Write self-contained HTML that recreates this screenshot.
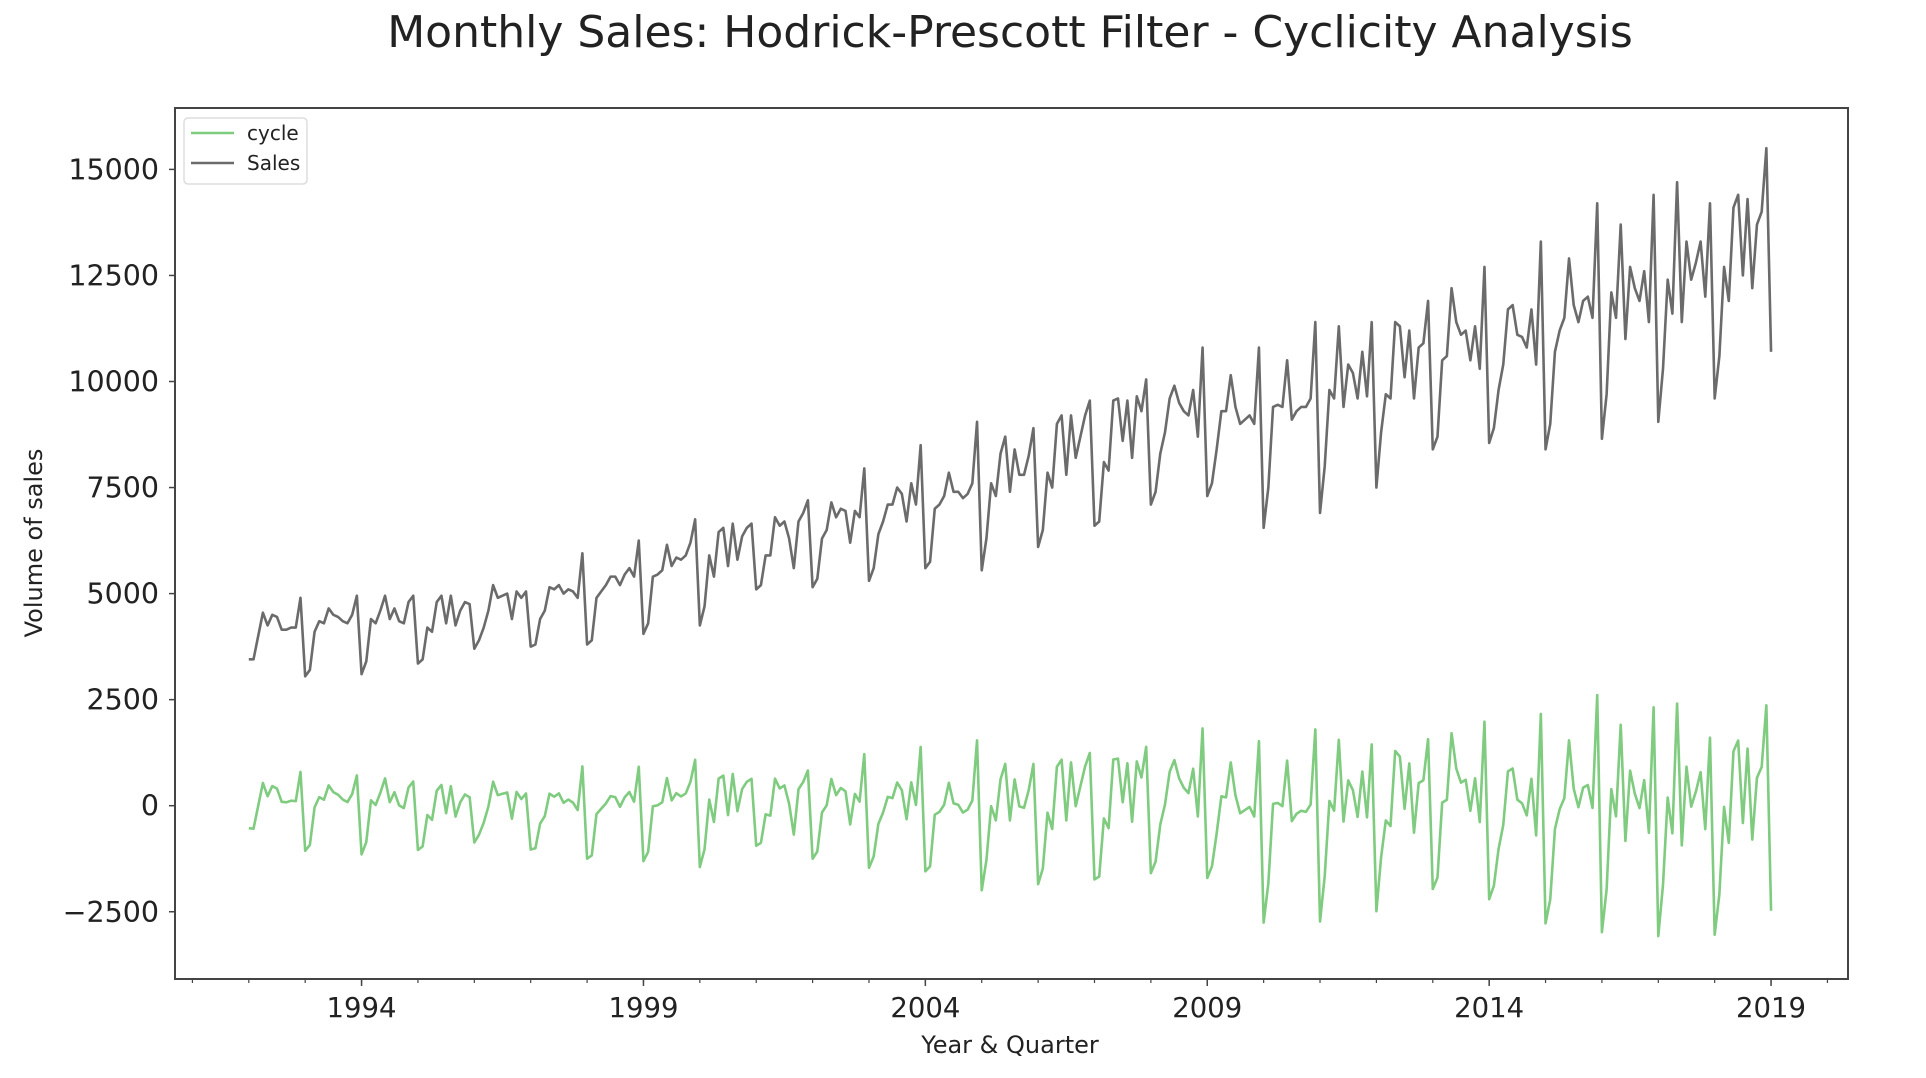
<!DOCTYPE html>
<html><head><meta charset="utf-8"><style>
html,body{margin:0;padding:0;background:#fff;}
svg{display:block;font-family:"DejaVu Sans","Liberation Sans",sans-serif;}
</style></head><body>
<svg id="chart" width="1926" height="1078" viewBox="0 0 1926 1078" xmlns="http://www.w3.org/2000/svg">
<text x="1010" y="47" font-size="44" text-anchor="middle" fill="#222">Monthly Sales: Hodrick-Prescott Filter - Cyclicity Analysis</text>
<g id="plot"></g>
<rect x="175" y="108" width="1673" height="871" fill="none" stroke="#444" stroke-width="2"/>
<text x="1010" y="1053" font-size="24" text-anchor="middle" fill="#222">Year &amp; Quarter</text>
<text transform="translate(42,543) rotate(-90)" font-size="24" text-anchor="middle" fill="#222">Volume of sales</text>
<g>
<rect x="184" y="118" width="123" height="66" rx="4" fill="#fff" stroke="#ddd" stroke-width="1.5"/>
<line x1="191" y1="133" x2="234" y2="133" stroke="#7fcb7f" stroke-width="2.6"/>
<text x="247" y="140" font-size="20" fill="#222">cycle</text>
<line x1="191" y1="163" x2="234" y2="163" stroke="#6b6b6b" stroke-width="2.6"/>
<text x="247" y="170" font-size="20" fill="#222">Sales</text>
</g>
</svg>
<script>
const startYear = 1992;
const sales = [
3450,3450,4000,4550,4250,4500,4450,4150,4150,4200,4200,4900,
3050,3200,4100,4350,4300,4650,4500,4450,4350,4300,4500,4950,
3100,3400,4400,4300,4600,4950,4400,4650,4350,4300,4800,4950,
3350,3450,4200,4100,4800,4950,4300,4950,4250,4600,4800,4750,
3700,3900,4200,4600,5200,4900,4950,5000,4400,5050,4900,5050,
3750,3800,4400,4600,5150,5100,5200,5000,5100,5050,4900,5950,
3800,3900,4900,5050,5200,5400,5400,5200,5450,5600,5400,6250,
4050,4300,5400,5450,5550,6150,5650,5850,5800,5900,6200,6750,
4250,4700,5900,5400,6450,6550,5650,6650,5800,6350,6550,6650,
5100,5200,5900,5900,6800,6600,6700,6300,5600,6700,6900,7200,
5150,5350,6300,6500,7150,6800,7000,6950,6200,6950,6800,7950,
5300,5600,6400,6700,7100,7100,7500,7350,6700,7600,7100,8500,
5600,5750,7000,7100,7300,7850,7400,7400,7250,7350,7600,9050,
5550,6300,7600,7300,8300,8700,7400,8400,7800,7800,8250,8900,
6100,6500,7850,7500,9000,9200,7800,9200,8200,8700,9200,9550,
6600,6700,8100,7900,9550,9600,8600,9550,8200,9650,9300,10050,
7100,7400,8300,8800,9600,9900,9500,9300,9200,9800,8700,10800,
7300,7600,8400,9300,9300,10150,9400,9000,9100,9200,9000,10800,
6550,7500,9400,9450,9400,10500,9100,9300,9400,9400,9600,11400,
6900,8000,9800,9600,11300,9400,10400,10200,9600,10700,9650,11400,
7500,8800,9700,9600,11400,11300,10100,11200,9600,10800,10900,11900,
8400,8700,10500,10600,12200,11400,11100,11200,10500,11300,10300,12700,
8550,8900,9800,10400,11700,11800,11100,11050,10800,11700,10400,13300,
8400,9000,10700,11200,11500,12900,11800,11400,11900,12000,11500,14200,
8650,9700,12100,11500,13700,11000,12700,12200,11900,12600,11400,14400,
9050,10300,12400,11600,14700,11400,13300,12400,12800,13300,12000,14200,
9600,10600,12700,11900,14100,14400,12500,14300,12200,13700,14000,15500,
10700];
const yTicks = [-2500,0,2500,5000,7500,10000,12500,15000];
const xTickYears = [1994,1999,2004,2009,2014,2019];
const minorYears = [1991,1992,1993,1994,1995,1996,1997,1998,1999,2000,2001,2002,2003,2004,2005,2006,2007,2008,2009,2010,2011,2012,2013,2014,2015,2016,2017,2018,2019,2020];
const hpLambda = 129600;

const NS='http://www.w3.org/2000/svg';
const X0=248.8, PXY=56.38;            // x for 1992.0, px per year
const Y0=805.7, PXV=0.04242;          // y for value 0, px per unit
function xs(t){return X0+(t-startYear)*PXY;}
function ys(v){return Y0-v*PXV;}

function hpTrend(y,lam){
  const n=y.length;const A=[];for(let i=0;i<n;i++){A.push(new Float64Array(n));A[i][i]=1;}
  for(let k=0;k<n-2;k++){const d=[1,-2,1];for(let a=0;a<3;a++)for(let b=0;b<3;b++)A[k+a][k+b]+=lam*d[a]*d[b];}
  const b=y.slice();
  for(let i=0;i<n;i++){const lim=Math.min(n,i+3);for(let r=i+1;r<lim;r++){const f=A[r][i]/A[i][i];if(!f)continue;for(let c=i;c<Math.min(n,i+3);c++)A[r][c]-=f*A[i][c];b[r]-=f*b[i];}}
  const t=new Array(n);for(let i=n-1;i>=0;i--){let s=b[i];for(let c=i+1;c<Math.min(n,i+3);c++)s-=A[i][c]*t[c];t[i]=s/A[i][i];}
  return t;
}
const trend=hpTrend(sales,hpLambda);
const cycle=sales.map((v,i)=>v-trend[i]);

const plot=document.getElementById('plot');
function mk(tag,attrs){const e=document.createElementNS(NS,tag);for(const k in attrs)e.setAttribute(k,attrs[k]);return e;}

yTicks.forEach(v=>{
  const l=mk('line',{x1:169,x2:175,y1:ys(v),y2:ys(v),stroke:'#444','stroke-width':1.5});
  
  
  plot.appendChild(l);
  const t=mk('text',{x:159,y:ys(v)+10,'font-size':28.5,'text-anchor':'end',fill:'#222'});
  
  
  t.textContent=String(v).replace('-','\u2212');
  plot.appendChild(t);
});
minorYears.forEach(yr=>{
  const x=xs(yr);
  const l=mk('line',{x1:x,x2:x,y1:979,y2:983,stroke:'#444','stroke-width':1.2});
  
  
  plot.appendChild(l);
});
xTickYears.forEach(yr=>{
  const x=xs(yr);
  const l=mk('line',{x1:x,x2:x,y1:979,y2:986,stroke:'#444','stroke-width':1.5});
  
  
  plot.appendChild(l);
  const t=mk('text',{x:x,y:1017,'font-size':27.5,'text-anchor':'middle',fill:'#222'});
  
  
  t.textContent=yr;
  plot.appendChild(t);
});
function path(arr){return arr.map((v,i)=>(i?'L':'M')+xs(startYear+i/12).toFixed(2)+','+ys(v).toFixed(2)).join('');}
const pc=mk('path',{d:path(cycle),fill:'none',stroke:'#7fcb7f','stroke-width':2.6,'stroke-linejoin':'round'});


plot.appendChild(pc);
const ps=mk('path',{d:path(sales),fill:'none',stroke:'#6b6b6b','stroke-width':2.6,'stroke-linejoin':'round'});


plot.appendChild(ps);
</script>
</body></html>
